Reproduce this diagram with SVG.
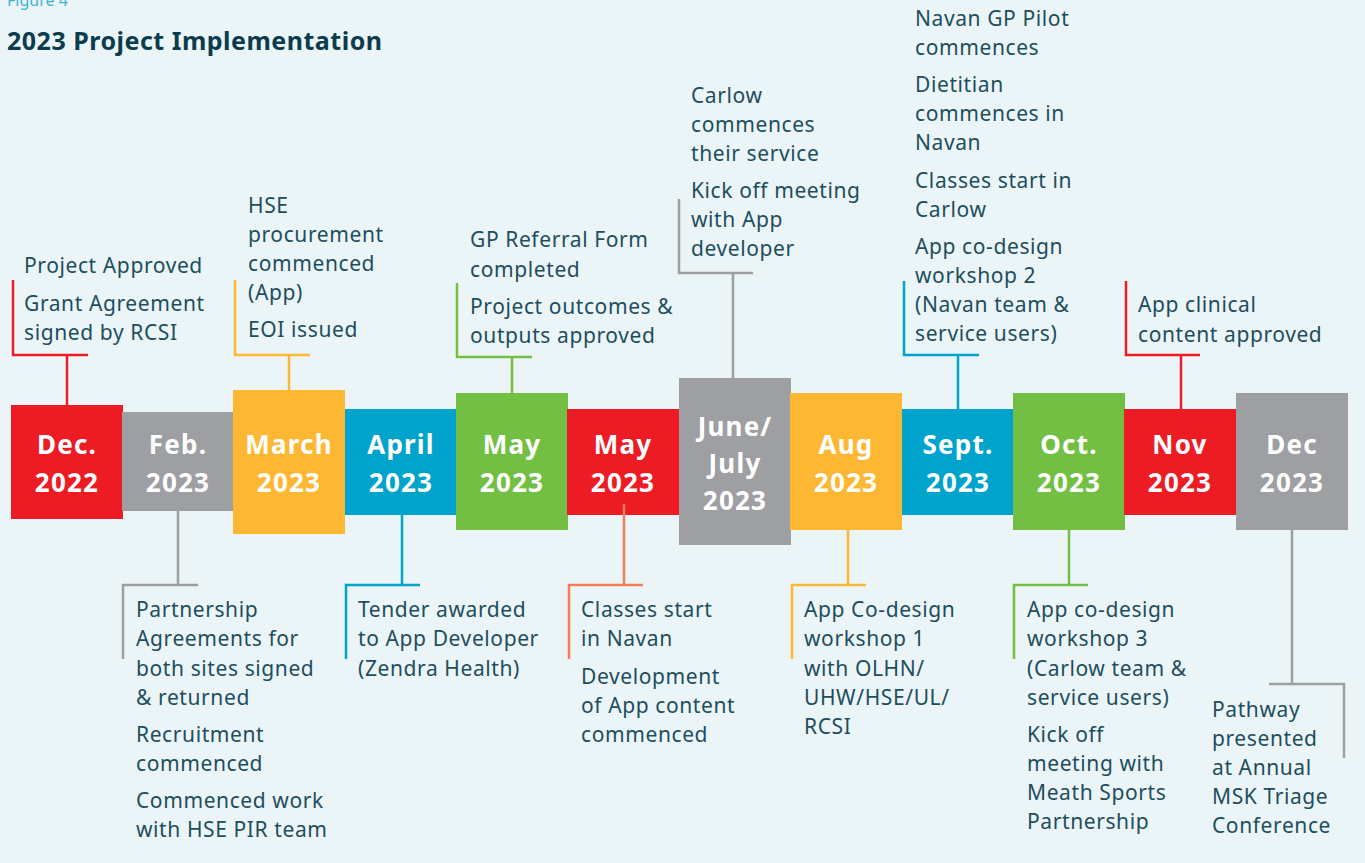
<svg xmlns="http://www.w3.org/2000/svg" width="1365" height="863" viewBox="0 0 1365 863">
<style>
.bg{fill:#EBF4F6}
.lbl{font-family:"Noto Sans","Liberation Sans",sans-serif;font-size:21px;fill:#1D4E5E;letter-spacing:0.6px}
.box{font-family:"Noto Sans","Liberation Sans",sans-serif;font-size:26px;font-weight:700;fill:#FFFFFF;text-anchor:middle;letter-spacing:1.2px}
.title{font-family:"Noto Sans","Liberation Sans",sans-serif;font-size:25px;font-weight:700;fill:#0B3C4E;letter-spacing:0.5px}
.fig{font-family:"Noto Sans","Liberation Sans",sans-serif;font-size:16px;fill:#3BB4D8}
.c{fill:none;stroke-width:2.5}
.red{fill:#ED1C24}.grey{fill:#9D9FA2}.yellow{fill:#FDB733}.blue{fill:#00A3CC}.green{fill:#72BF44}
.sred{stroke:#ED1C24}.sgrey{stroke:#9D9FA2}.syellow{stroke:#FDB733}.sblue{stroke:#00A3CC}.sgreen{stroke:#72BF44}.ssalmon{stroke:#F47C5A}
</style>
<rect class="bg" x="0" y="0" width="1365" height="863"/>
<text class="fig" x="7" y="6">Figure 4</text>
<text class="title" x="7" y="50">2023 Project Implementation</text>

<!-- boxes -->
<g id="dec2022"><rect class="red" x="11" y="405" width="112" height="114"/><text class="box" x="67" y="454">Dec.</text><text class="box" x="67" y="492">2022</text></g>
<g id="feb2023"><rect class="grey" x="122" y="412" width="111" height="99"/><text class="box" x="178" y="454">Feb.</text><text class="box" x="178" y="492">2023</text></g>
<g id="mar2023"><rect class="yellow" x="233" y="390" width="112" height="144"/><text class="box" x="289" y="454">March</text><text class="box" x="289" y="492">2023</text></g>
<g id="apr2023"><rect class="blue" x="345" y="409" width="111" height="106"/><text class="box" x="401" y="454">April</text><text class="box" x="401" y="492">2023</text></g>
<g id="may2023a"><rect class="green" x="456" y="393" width="112" height="137"/><text class="box" x="512" y="454">May</text><text class="box" x="512" y="492">2023</text></g>
<g id="may2023b"><rect class="red" x="567" y="409" width="112" height="106"/><text class="box" x="623" y="454">May</text><text class="box" x="623" y="492">2023</text></g>
<g id="junjul2023"><rect class="grey" x="679" y="378" width="112" height="167"/><text class="box" x="735" y="436">June/</text><text class="box" x="735" y="473">July</text><text class="box" x="735" y="510">2023</text></g>
<g id="aug2023"><rect class="yellow" x="790" y="393" width="112" height="137"/><text class="box" x="846" y="454">Aug</text><text class="box" x="846" y="492">2023</text></g>
<g id="sep2023"><rect class="blue" x="902" y="409" width="111" height="106"/><text class="box" x="958" y="454">Sept.</text><text class="box" x="958" y="492">2023</text></g>
<g id="oct2023"><rect class="green" x="1013" y="393" width="112" height="137"/><text class="box" x="1069" y="454">Oct.</text><text class="box" x="1069" y="492">2023</text></g>
<g id="nov2023"><rect class="red" x="1124" y="409" width="112" height="106"/><text class="box" x="1180" y="454">Nov</text><text class="box" x="1180" y="492">2023</text></g>
<g id="dec2023"><rect class="grey" x="1236" y="393" width="112" height="137"/><text class="box" x="1292" y="454">Dec</text><text class="box" x="1292" y="492">2023</text></g>

<!-- connectors -->
<g id="connectors">
<path class="c sred" d="M13 280V355H88M67 355V405"/>
<path class="c syellow" d="M235 280V355H310M289 355V390"/>
<path class="c sgreen" d="M457 283V357H532M512 357V393"/>
<path class="c sgrey" d="M679 199V273H753M733 273V378"/>
<path class="c sblue" d="M904 281V355H979M958 355V409"/>
<path class="c sred" d="M1126 281V355H1200M1181 355V409"/>
<path class="c sgrey" d="M178 511V585M123 659V585H198"/>
<path class="c sblue" d="M402 515V585M346 659V585H420"/>
<path class="c ssalmon" d="M624 504V585M569 659V585H643"/>
<path class="c syellow" d="M848 530V585M792 659V585H866"/>
<path class="c sgreen" d="M1069 530V585M1014 659V585H1088"/>
<path class="c sgrey" d="M1292 530V684M1269 684H1344V758"/>
</g>

<!-- labels -->
<g id="lbl-dec2022" class="lbl"><text x="24" y="273">Project Approved</text><text x="24" y="311">Grant Agreement</text><text x="24" y="340">signed by RCSI</text></g>
<g id="lbl-mar2023" class="lbl"><text x="248" y="213">HSE</text><text x="248" y="242">procurement</text><text x="248" y="271">commenced</text><text x="248" y="300">(App)</text><text x="248" y="337">EOI issued</text></g>
<g id="lbl-may2023a" class="lbl"><text x="470" y="247">GP Referral Form</text><text x="470" y="277">completed</text><text x="470" y="314">Project outcomes &amp;</text><text x="470" y="343">outputs approved</text></g>
<g id="lbl-junjul2023" class="lbl"><text x="691" y="103">Carlow</text><text x="691" y="132">commences</text><text x="691" y="161">their service</text><text x="691" y="198">Kick off meeting</text><text x="691" y="227">with App</text><text x="691" y="256">developer</text></g>
<g id="lbl-sep2023" class="lbl"><text x="915" y="26">Navan GP Pilot</text><text x="915" y="55">commences</text><text x="915" y="92">Dietitian</text><text x="915" y="121">commences in</text><text x="915" y="150">Navan</text><text x="915" y="188">Classes start in</text><text x="915" y="217">Carlow</text><text x="915" y="254">App co-design</text><text x="915" y="283">workshop 2</text><text x="915" y="312">(Navan team &amp;</text><text x="915" y="341">service users)</text></g>
<g id="lbl-nov2023" class="lbl"><text x="1138" y="312">App clinical</text><text x="1138" y="342">content approved</text></g>
<g id="lbl-feb2023" class="lbl"><text x="136" y="617">Partnership</text><text x="136" y="646">Agreements for</text><text x="136" y="676">both sites signed</text><text x="136" y="705">&amp; returned</text><text x="136" y="742">Recruitment</text><text x="136" y="771">commenced</text><text x="136" y="808">Commenced work</text><text x="136" y="837">with HSE PIR team</text></g>
<g id="lbl-apr2023" class="lbl"><text x="358" y="617">Tender awarded</text><text x="358" y="646">to App Developer</text><text x="358" y="676">(Zendra Health)</text></g>
<g id="lbl-may2023b" class="lbl"><text x="581" y="617">Classes start</text><text x="581" y="646">in Navan</text><text x="581" y="684">Development</text><text x="581" y="713">of App content</text><text x="581" y="742">commenced</text></g>
<g id="lbl-aug2023" class="lbl"><text x="804" y="617">App Co-design</text><text x="804" y="646">workshop 1</text><text x="804" y="676">with OLHN/</text><text x="804" y="705">UHW/HSE/UL/</text><text x="804" y="734">RCSI</text></g>
<g id="lbl-oct2023" class="lbl"><text x="1027" y="617">App co-design</text><text x="1027" y="646">workshop 3</text><text x="1027" y="676">(Carlow team &amp;</text><text x="1027" y="705">service users)</text><text x="1027" y="742">Kick off</text><text x="1027" y="771">meeting with</text><text x="1027" y="800">Meath Sports</text><text x="1027" y="829">Partnership</text></g>
<g id="lbl-dec2023" class="lbl"><text x="1212" y="717">Pathway</text><text x="1212" y="746">presented</text><text x="1212" y="775">at Annual</text><text x="1212" y="804">MSK Triage</text><text x="1212" y="833">Conference</text></g>
</svg>
